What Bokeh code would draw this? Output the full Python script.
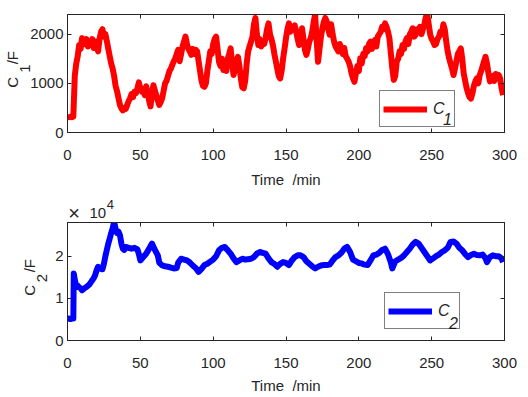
import math
from bokeh.plotting import figure
from bokeh.layouts import column
from bokeh.models import (Range1d, LinearAxis, Label, Legend, LegendItem,
                          FixedTicker)
from bokeh.embed import file_html
from bokeh.resources import INLINE

# ---------------- data ----------------
time1 = list(range(0, 300))
c1 = [
    320, 310, 320, 310, 320, 1150, 1400, 1550, 1780, 1700,
    1920, 1850, 1800, 1900, 1750, 1850, 1780, 1900, 1720, 1850,
    1780, 1650, 1900, 2050, 2100, 1950, 2000, 1860, 1700, 1550,
    1400, 1300, 1150, 950, 840, 700, 560, 490, 450, 500,
    480, 560, 640, 700, 780, 720, 830, 800, 900, 1020,
    900, 830, 880, 760, 940, 800, 650, 530, 800, 960,
    850, 750, 650, 560, 620, 700, 850, 1000, 1050, 1150,
    1250, 1300, 1380, 1450, 1510, 1600, 1680, 1450, 1600, 1750,
    1850, 1950, 1800, 1700, 1650, 1580, 1700, 1600, 1680, 1650,
    1450, 1250, 1050, 950, 930, 1000, 1250, 1450, 1650, 1600,
    1800, 1900, 1950, 1700, 1440, 1350, 1500, 1270, 1400, 1250,
    1500, 1600, 1710, 1400, 1170, 1300, 1450, 1540, 1350, 1100,
    920, 900, 1050, 1400, 1650, 1750, 1850, 1950, 2200, 2330,
    2000, 1780, 1900, 1750, 1850, 1800, 1920, 2100, 2220, 2000,
    1900, 1780, 1600, 1450, 1300, 1150, 1100, 1250, 1500, 1700,
    1920, 2100, 2220, 2050, 2150, 2100, 2180, 2050, 1900, 1780,
    1950, 2120, 1900, 1680, 1580, 1700, 1850, 1920, 2050, 2250,
    2400, 1900, 1440, 1700, 1950, 2120, 2250, 2330, 2250, 2100,
    1990, 2200, 2000, 1850, 1750, 1700, 1650, 1800, 1700, 1600,
    1720, 1550, 1500, 1440, 1350, 1200, 1100, 1030, 1200, 1350,
    1250, 1510, 1400, 1600, 1550, 1720, 1650, 1800, 1850, 1700,
    1800, 1880, 1750, 1950, 2000, 2050, 2150, 2100, 2220, 2150,
    2050, 1920, 1600, 1300, 1070, 1150, 1440, 1500, 1650, 1600,
    1780, 1700, 1850, 1920, 1800, 2000, 2050, 2120, 1950, 1990,
    2100, 2050, 2150, 2000, 2100, 2200, 2350, 2400, 2200, 1990,
    1900, 1850, 1780, 1800, 1900, 1950, 2050, 2000, 2200, 2100,
    1850, 1650, 1510, 1400, 1300, 1170, 1300, 1450, 1600, 1650,
    1710, 1500, 1200, 1050, 900, 800, 720, 690, 800, 950,
    1040, 1100, 1000, 1170, 1250, 1350, 1450, 1540, 1400, 1200,
    1040, 1100, 1150, 1050, 1190, 1100, 1170, 1100, 900, 760,
]

time2 = [
    0, 1, 2, 3, 4, 4.3, 5, 6, 7, 8, 9, 10, 11, 12, 13, 14, 15, 16, 17, 18,
    19, 20, 21, 22, 23, 24, 25, 26, 27, 28, 29, 30, 31, 32, 33, 34, 35, 36, 37, 38,
    39, 40, 42, 44, 46, 48, 49, 50, 52, 54, 56, 58, 60, 62, 63, 65, 67, 69, 71, 73,
    75, 76, 78, 80, 82, 84, 86, 88, 90, 92, 94, 96, 98, 100, 102, 104, 106, 108, 110, 112,
    114, 116, 118, 120, 122, 124, 126, 128, 130, 132, 134, 136, 138, 140, 142, 144, 146, 148, 150, 152,
    154, 156, 158, 160, 162, 164, 166, 168, 170, 172, 174, 176, 178, 180, 182, 184, 186, 188, 190, 192,
    194, 196, 198, 200, 202, 204, 206, 208, 210, 212, 214, 216, 218, 220, 222, 223, 225, 227, 229, 231,
    233, 235, 237, 239, 241, 243, 245, 247, 249, 251, 253, 255, 257, 259, 261, 263, 265, 267, 269, 271,
    273, 275, 277, 279, 281, 283, 285, 287, 288, 290, 292, 294, 296, 298, 299,
]
c2 = [
    5200, 5200, 5100, 5200, 5200, 15900, 14500, 12700, 13000, 12600, 12400, 11900, 12200, 12500, 12700, 13000, 13300, 13800, 14300, 14800,
    15500, 16700, 17500, 17200, 17000, 16900, 18200, 20000, 21500, 23000, 24200, 25500, 26600, 28200, 26500, 25500, 25800, 25000, 23000, 21800,
    21500, 22200, 22000, 21800, 22000, 21600, 20500, 19000, 19800, 20600, 21800, 23000, 21500, 20200, 18500, 17800, 17600, 17500, 17300, 17100,
    17200, 18500, 19400, 19200, 19000, 18500, 17800, 17200, 16300, 17000, 17900, 18200, 18700, 19200, 20000, 21400, 22000, 22200, 21400, 20600,
    19500, 18600, 19000, 19400, 19200, 19300, 19400, 19800, 20600, 21000, 20800, 20600, 19500, 18600, 18200, 17500, 18200, 18600, 18400, 17900,
    19000, 19800, 20200, 20200, 19800, 18800, 18200, 17600, 17100, 17500, 17800, 17900, 17900, 18000, 19000, 19800, 20200, 20800, 21800, 22200,
    21000, 19200, 18800, 18400, 18300, 18000, 17900, 19000, 20200, 20400, 20800, 21500, 21800, 20500, 18500, 17100, 18800, 19200, 19600, 20200,
    21000, 21800, 22800, 23400, 23000, 22000, 21000, 20000, 19000, 19500, 20000, 20400, 21000, 21400, 22000, 23400, 23500, 23000, 22000, 21400,
    20500, 19800, 20300, 20600, 20300, 20200, 20400, 19500, 18600, 19800, 20200, 20000, 20000, 19500, 18600,
]
assert len(time1) == len(c1) and len(time2) == len(c2)

x_ticks = [0, 50, 100, 150, 200, 250, 300]
y1_ticks = [0, 1000, 2000]
y2_ticks = [0, 1, 2]
c2_exponent = 4
c2_scaled = [v / 10 ** c2_exponent for v in c2]

AX = "#262626"
FONT = "Liberation Sans"
FS = "15px"
SP = "\u00a0"  # non-collapsing space
XLABEL = "Time" + SP * 2 + "/min"
YLABEL = SP * 2 + "C" + SP * 3 + "/F"


def style(p, yticks):
    p.outline_line_color = AX
    p.outline_line_width = 1
    p.xgrid.visible = False
    p.ygrid.visible = False
    bottom, left = p.below[0], p.left[0]
    bottom.ticker = FixedTicker(ticks=x_ticks)
    left.ticker = FixedTicker(ticks=yticks)
    # mirrored tick marks (box on)
    top = LinearAxis(ticker=FixedTicker(ticks=x_ticks))
    right = LinearAxis(ticker=FixedTicker(ticks=yticks))
    p.add_layout(top, "above")
    p.add_layout(right, "right")
    for ax in (bottom, left, top, right):
        ax.axis_line_color = AX
        ax.major_tick_line_color = AX
        ax.major_tick_in = 4
        ax.major_tick_out = 0
        ax.minor_tick_line_color = None
        ax.major_label_text_font = FONT
        ax.major_label_text_font_size = FS
        ax.major_label_text_color = AX
    for ax in (top, right):
        ax.major_label_text_font_size = "0px"
        ax.major_label_text_color = None
        ax.major_label_standoff = 0
    left.major_label_standoff = 4
    for ax, lab in ((bottom, XLABEL), (left, YLABEL)):
        ax.axis_label = lab
        ax.axis_label_text_font = FONT
        ax.axis_label_text_font_size = FS
        ax.axis_label_text_font_style = "normal"
        ax.axis_label_text_color = AX
    return bottom, left


def txt(p, x, y, s, place="center", angle=0.0, size=FS, fstyle="normal",
        align="center"):
    lab = Label(x=x, y=y, text=s, angle=angle, text_font=FONT,
                text_font_size=size, text_font_style=fstyle,
                text_color=AX, text_align=align,
                text_baseline="middle", level="overlay")
    p.add_layout(lab, place)


def legend(p, r, loc):
    leg = Legend(items=[LegendItem(label="C", renderers=[r])], location=loc,
                 margin=0, padding=3, spacing=0, glyph_width=44, glyph_height=20,
                 label_standoff=6, label_width=18, label_height=29,
                 label_text_font=FONT, label_text_font_style="italic",
                 label_text_font_size="16px", label_text_color=AX,
                 border_line_color="black", border_line_width=1,
                 background_fill_alpha=0)
    p.add_layout(leg)


# ---------------- top plot ----------------
p1 = figure(width=528, height=195, output_backend="svg", toolbar_location=None,
            x_range=Range1d(0, 300), y_range=Range1d(0, 2400),
            min_border_left=67, min_border_right=24, min_border_top=14,
            min_border_bottom=63)
r1 = p1.line(time1, c1, line_color="#ff0000", line_width=6, line_join="round")
b1, l1 = style(p1, y1_ticks)
b1.major_label_standoff = 17
b1.axis_label_standoff = 8
l1.axis_label_standoff = 6
txt(p1, -29.5, 1300, "1", "right", angle=math.pi / 2)
legend(p1, r1, (312, 5))
txt(p1, 260.8, 265, "1", size="16px", fstyle="italic")

# ---------------- bottom plot ----------------
p2 = figure(width=528, height=202, output_backend="svg", toolbar_location=None,
            x_range=Range1d(0, 300), y_range=Range1d(0, 2.8),
            min_border_left=67, min_border_right=24, min_border_top=27,
            min_border_bottom=57)
r2 = p2.line(time2, c2_scaled, line_color="#0000ff", line_width=6, line_join="round")
b2, l2 = style(p2, y2_ticks)
b2.major_label_standoff = 17
b2.axis_label_standoff = 6
l2.axis_label_standoff = 14
txt(p2, -17.5, 1.48, "2", "left", angle=math.pi / 2)
txt(p2, 4.5, 3.03, "\u00d7", "right", size="20px")
txt(p2, 15.1, 3.03, "10", "above", align="left")
txt(p2, 29.5, 3.22, str(c2_exponent), "right", size="13px")
legend(p2, r2, (317, 11))
txt(p2, 264.9, 0.417, "2", size="16px", fstyle="italic")

layout = column(p1, p2, spacing=0)
open("out.html", "w").write(file_html(layout, INLINE))
